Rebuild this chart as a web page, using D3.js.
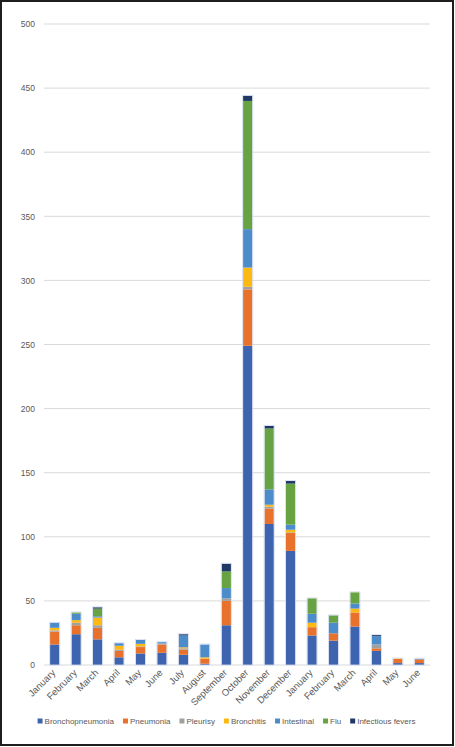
<!DOCTYPE html>
<html>
<head>
<meta charset="utf-8">
<script src="https://cdn.jsdelivr.net/npm/d3@7"></script>
<style>
  body { margin: 0; background: #fff; }
  text { font-family: "Liberation Sans", Arial, sans-serif; fill: #595959; }
</style>
</head>
<body>
<div id="chart-container"></div>
<script>
// months, two seasons (Jan-Dec, then Jan-Jun)
const months = ["January", "February", "March", "April", "May", "June", "July", "August",
    "September", "October", "November", "December", "January", "February", "March", "April", "May", "June"];

const seriesNames = ["Bronchopneumonia", "Pneumonia", "Pleurisy", "Bronchitis", "Intestinal", "Flu", "Infectious fevers"];
const seriesColors = ["#3e64af", "#e8722c", "#a0a0a0", "#fdb913", "#4d8ccb", "#67a342", "#1f3864"];

const bronchopneumonia = [16, 24, 20, 6, 9, 9.5, 8, 1, 31, 249, 110, 89, 23, 19, 30, 11, 1.5, 1.5];
const pneumonia        = [10, 7, 9, 5, 5, 6.5, 4, 4, 19, 44, 12, 14, 6.5, 5.7, 11, 2, 3.3, 2.9];
const pleurisy         = [1, 2, 2, 1, 0.5, 0.8, 1, 0, 2, 2, 1.5, 0.5, 0, 0, 0, 3, 0, 0];
const bronchitis       = [2, 2, 6, 3, 2, 0, 0.8, 1, 0, 15, 1.5, 2, 3.5, 0, 3, 0, 0.3, 0];
const intestinal       = [4, 5, 1, 2, 3, 1, 9.2, 10, 8, 30, 12, 4, 7, 8.3, 4, 6.5, 0, 0.5];
const flu              = [0, 1, 6, 0, 0, 0, 0, 0, 13, 100, 47.5, 32, 12, 5.7, 8.7, 0, 0, 0];
const infectious       = [0, 0, 1, 0, 0, 0, 1, 0, 6, 4, 2, 2, 0, 0, 0, 0.8, 0, 0];

const yTicks = [0, 50, 100, 150, 200, 250, 300, 350, 400, 450, 500];

const seriesValues = [bronchopneumonia, pneumonia, pleurisy, bronchitis, intestinal, flu, infectious];

// rows for d3.stack
const rows = months.map((m, i) => {
    const r = { idx: i };
    seriesNames.forEach((s, k) => r[s] = seriesValues[k][i]);
    return r;
});

const W = 455, H = 747;
const margin = { top: 24, right: 25, bottom: 82, left: 44 };

const svg = d3.select("#chart-container")
    .append("svg")
    .attr("width", W)
    .attr("height", H);

svg.append("rect")
    .attr("x", 1).attr("y", 1)
    .attr("width", W - 3).attr("height", H - 3)
    .attr("fill", "#fff")
    .attr("stroke", "#1e1e1e")
    .attr("stroke-width", 2);

const x = d3.scaleBand()
    .domain(d3.range(months.length))
    .range([margin.left, W - margin.right])
    .paddingInner(0.57)
    .paddingOuter(0.285);

const y = d3.scaleLinear()
    .domain([0, 500])
    .range([H - margin.bottom, margin.top]);

// gridlines
svg.selectAll(".grid")
    .data(yTicks)
    .join("line")
    .attr("class", "grid")
    .attr("x1", margin.left)
    .attr("x2", W - margin.right)
    .attr("y1", d => y(d))
    .attr("y2", d => y(d))
    .attr("stroke", "#d9d9d9")
    .attr("stroke-width", 1);

// y axis labels
svg.append("g")
    .attr("transform", `translate(${margin.left},0)`)
    .call(d3.axisLeft(y).tickValues(yTicks).tickSize(0).tickPadding(9))
    .call(g => g.select(".domain").remove())
    .call(g => g.selectAll("text")
        .style("font-size", "8.5px")
        .style("font-family", "'Liberation Sans', Arial, sans-serif")
        .attr("fill", "#595959"));

// stacked bars
const stack = d3.stack().keys(seriesNames);
const layers = stack(rows);

svg.append("g")
    .selectAll("g")
    .data(layers)
    .join("g")
    .attr("fill", (d, i) => seriesColors[i])
    .selectAll("rect")
    .data(d => d)
    .join("rect")
    .attr("x", d => x(d.data.idx))
    .attr("width", x.bandwidth())
    .attr("y", d => y(d[1]))
    .attr("height", d => y(d[0]) - y(d[1]));

// light outline round each bar
svg.append("g")
    .selectAll("rect")
    .data(rows)
    .join("rect")
    .attr("x", d => x(d.idx) - 0.5)
    .attr("width", x.bandwidth() + 1)
    .attr("y", d => y(d3.sum(seriesNames, s => d[s])) - 0.5)
    .attr("height", d => y(0) - y(d3.sum(seriesNames, s => d[s])) + 0.5)
    .attr("fill", "none")
    .attr("stroke", "#d3dcef")
    .attr("stroke-width", 0.8);

// x axis labels
svg.append("g")
    .attr("transform", `translate(0,${y(0)})`)
    .call(d3.axisBottom(x).tickSize(0).tickFormat(i => months[i]))
    .call(g => g.select(".domain").remove())
    .call(g => g.selectAll("text")
        .attr("x", 0).attr("y", 0).attr("dy", "0.35em")
        .attr("transform", "translate(-1,6) rotate(-45)")
        .style("text-anchor", "end")
        .style("font-size", "9.5px")
        .style("font-family", "'Liberation Sans', Arial, sans-serif")
        .attr("fill", "#595959"));

// legend
const legend = svg.append("g");
const items = legend.selectAll("g")
    .data(seriesNames)
    .join("g");
items.append("rect")
    .attr("width", 5).attr("height", 5)
    .attr("y", -2.5)
    .attr("fill", (d, i) => seriesColors[i]);
items.append("text")
    .attr("x", 7)
    .attr("dy", "0.35em")
    .style("font-size", "8px")
    .text(d => d);

let cx = 0;
items.each(function () {
    const g = d3.select(this);
    g.attr("transform", `translate(${cx},0)`);
    cx += 7 + g.select("text").node().getComputedTextLength() + 9;
});
const legendW = cx - 9;
legend.attr("transform", `translate(${(W - legendW) / 2 - 1},${721})`);
</script>
</body>
</html>
